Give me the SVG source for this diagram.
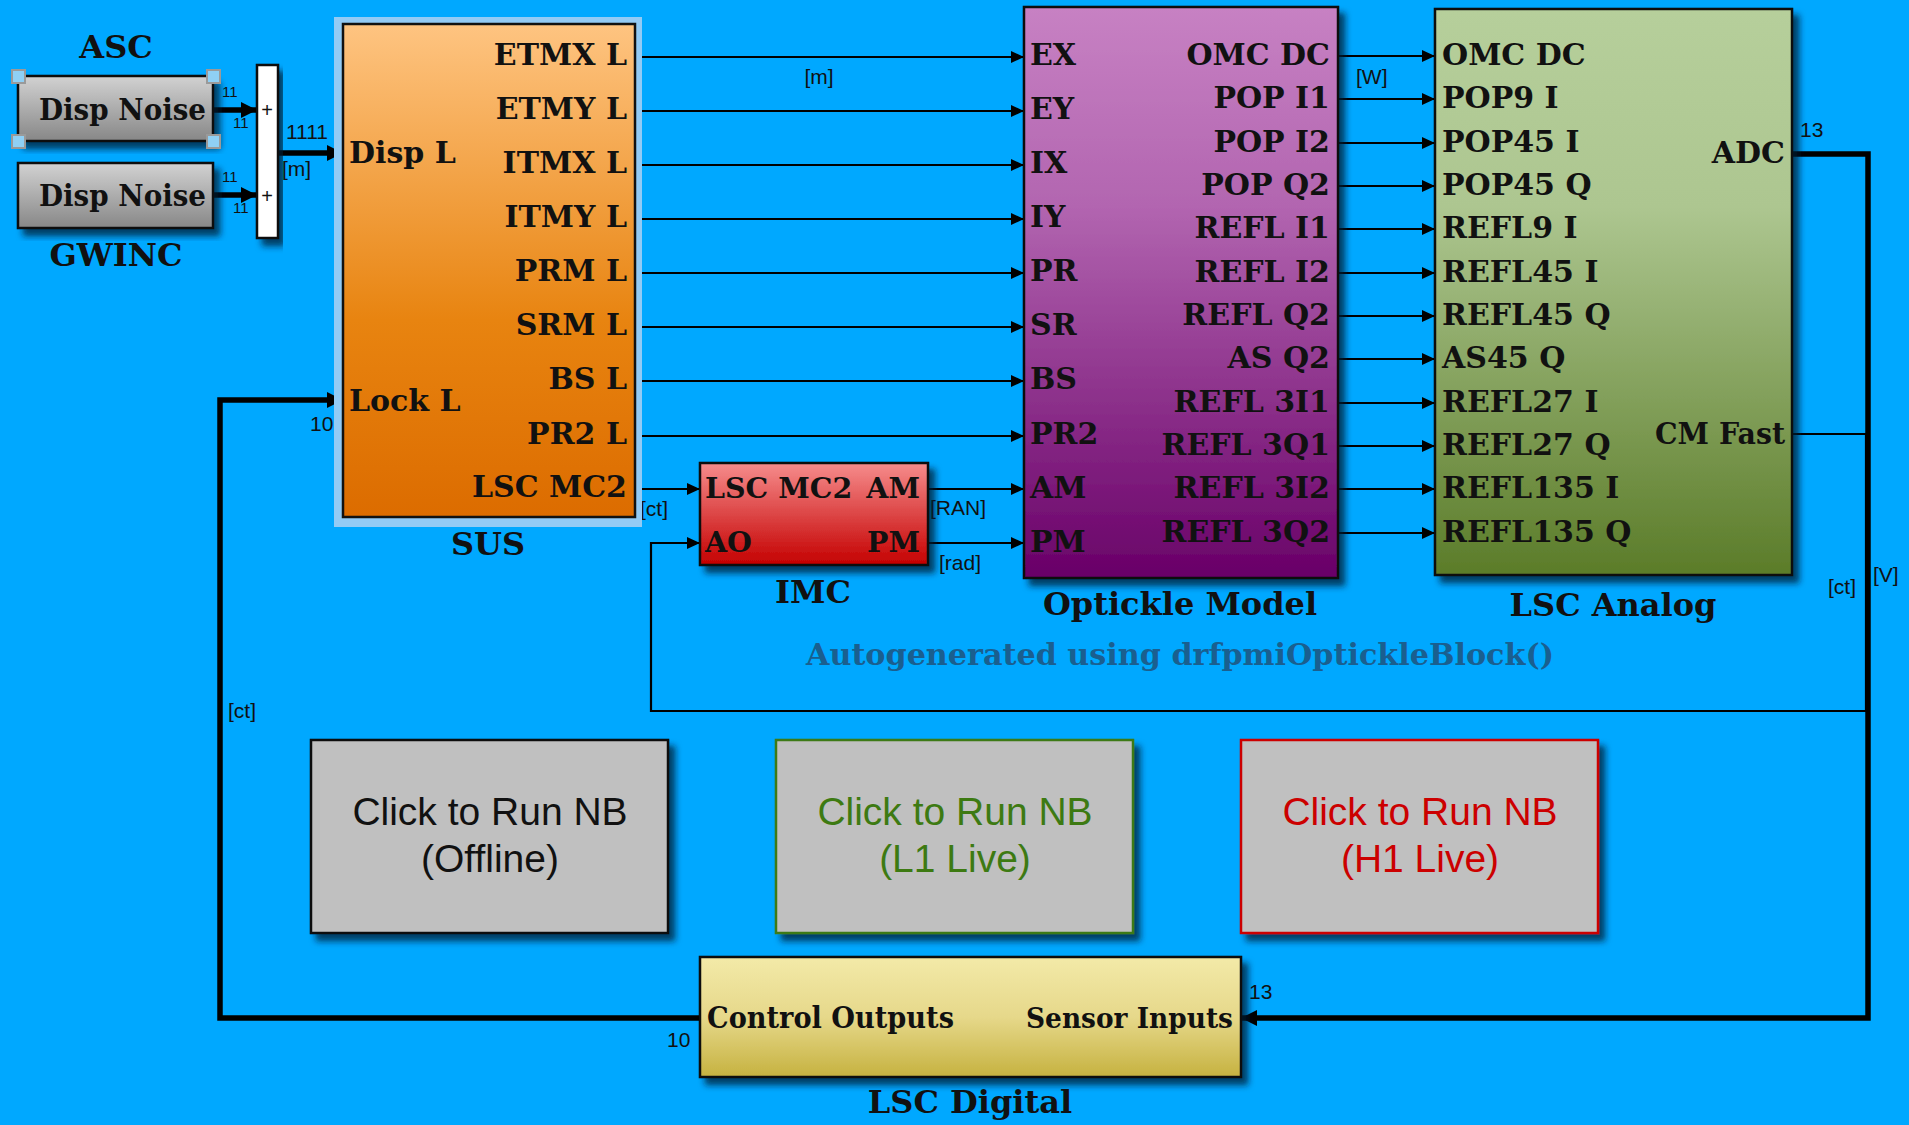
<svg xmlns="http://www.w3.org/2000/svg" width="1909" height="1125" viewBox="0 0 1909 1125">
<style>
.lbl{font-family:"DejaVu Serif","Liberation Serif",serif;font-weight:bold;font-size:30px;fill:#111}
.ttl{font-family:"DejaVu Serif","Liberation Serif",serif;font-weight:bold;font-size:32px;fill:#111}
.imc{font-size:28.5px}
.sm{font-family:"Liberation Sans",Arial,sans-serif;font-size:21px;fill:#111}
.xs{font-family:"Liberation Sans",Arial,sans-serif;font-size:15px;fill:#111}
.plus{font-family:"Liberation Sans",Arial,sans-serif;font-size:20px;fill:#111;text-anchor:middle}
.r{text-anchor:end}
.m{text-anchor:middle}
.blk{stroke:#111;stroke-width:2.5}
.thin{fill:none;stroke:#000;stroke-width:2.2}
.thick{fill:none;stroke:#000;stroke-width:5.5}
.btn{font-family:"Liberation Sans",Arial,sans-serif;font-size:39px;text-anchor:middle}
.hdl{fill:#8fd0f5;stroke:#9a9a9a;stroke-width:2}
</style>
<defs>
<filter id="sh" x="-10%" y="-10%" width="130%" height="130%"><feDropShadow dx="6" dy="7" stdDeviation="3" flood-color="#001a33" flood-opacity="0.75"/></filter>
<linearGradient id="gGray" x1="0" y1="0" x2="0" y2="1"><stop offset="0" stop-color="#d2d2d2"/><stop offset="1" stop-color="#878787"/></linearGradient>
<linearGradient id="gOrange" x1="0" y1="0" x2="0" y2="1"><stop offset="0" stop-color="#fec481"/><stop offset="0.6" stop-color="#e88410"/><stop offset="1" stop-color="#dc6c00"/></linearGradient>
<linearGradient id="gPurple" x1="0" y1="0" x2="0" y2="1"><stop offset="0" stop-color="#c781c3"/><stop offset="0.35" stop-color="#b265b0"/><stop offset="1" stop-color="#690068"/></linearGradient>
<linearGradient id="gRed" x1="0" y1="0" x2="0" y2="1"><stop offset="0" stop-color="#f68c8c"/><stop offset="1" stop-color="#c40000"/></linearGradient>
<linearGradient id="gGreen" x1="0" y1="0" x2="0" y2="1"><stop offset="0" stop-color="#b6cf9b"/><stop offset="0.35" stop-color="#adc690"/><stop offset="1" stop-color="#5b7c29"/></linearGradient>
<linearGradient id="gYellow" x1="0" y1="0" x2="0" y2="1"><stop offset="0" stop-color="#f3eaa8"/><stop offset="0.5" stop-color="#e6d88a"/><stop offset="1" stop-color="#c6b240"/></linearGradient>
<marker id="ah" markerUnits="userSpaceOnUse" markerWidth="13" markerHeight="12" refX="13" refY="6" orient="auto"><path d="M0,0 L13,6 L0,12 z" fill="#000"/></marker>
<marker id="ahT" markerUnits="userSpaceOnUse" markerWidth="16" markerHeight="16" refX="16" refY="8" orient="auto"><path d="M0,0 L16,8 L0,16 z" fill="#000"/></marker>
</defs>
<rect x="0" y="0" width="1909" height="1125" fill="#00a8ff"/>

<g id="connectors">
  <line class="thick" x1="213" y1="110" x2="257" y2="110" marker-end="url(#ahT)"/>
  <line class="thick" x1="213" y1="195" x2="257" y2="195" marker-end="url(#ahT)"/>
  <line class="thick" x1="277" y1="153" x2="343" y2="153" marker-end="url(#ahT)"/>
  <line class="thin" x1="635" y1="57" x2="1024" y2="57" marker-end="url(#ah)"/>
  <line class="thin" x1="635" y1="111" x2="1024" y2="111" marker-end="url(#ah)"/>
  <line class="thin" x1="635" y1="165" x2="1024" y2="165" marker-end="url(#ah)"/>
  <line class="thin" x1="635" y1="219" x2="1024" y2="219" marker-end="url(#ah)"/>
  <line class="thin" x1="635" y1="273" x2="1024" y2="273" marker-end="url(#ah)"/>
  <line class="thin" x1="635" y1="327" x2="1024" y2="327" marker-end="url(#ah)"/>
  <line class="thin" x1="635" y1="381" x2="1024" y2="381" marker-end="url(#ah)"/>
  <line class="thin" x1="635" y1="436" x2="1024" y2="436" marker-end="url(#ah)"/>
  <line class="thin" x1="635" y1="489" x2="700" y2="489" marker-end="url(#ah)"/>
  <line class="thin" x1="928" y1="489" x2="1024" y2="489" marker-end="url(#ah)"/>
  <line class="thin" x1="928" y1="543" x2="1024" y2="543" marker-end="url(#ah)"/>
  <line class="thin" x1="1338" y1="56" x2="1435" y2="56" marker-end="url(#ah)"/>
  <line class="thin" x1="1338" y1="99" x2="1435" y2="99" marker-end="url(#ah)"/>
  <line class="thin" x1="1338" y1="143" x2="1435" y2="143" marker-end="url(#ah)"/>
  <line class="thin" x1="1338" y1="186" x2="1435" y2="186" marker-end="url(#ah)"/>
  <line class="thin" x1="1338" y1="229" x2="1435" y2="229" marker-end="url(#ah)"/>
  <line class="thin" x1="1338" y1="273" x2="1435" y2="273" marker-end="url(#ah)"/>
  <line class="thin" x1="1338" y1="316" x2="1435" y2="316" marker-end="url(#ah)"/>
  <line class="thin" x1="1338" y1="359" x2="1435" y2="359" marker-end="url(#ah)"/>
  <line class="thin" x1="1338" y1="403" x2="1435" y2="403" marker-end="url(#ah)"/>
  <line class="thin" x1="1338" y1="446" x2="1435" y2="446" marker-end="url(#ah)"/>
  <line class="thin" x1="1338" y1="489" x2="1435" y2="489" marker-end="url(#ah)"/>
  <line class="thin" x1="1338" y1="533" x2="1435" y2="533" marker-end="url(#ah)"/>
  <polyline class="thin" points="1792,434 1866,434 1866,711 651,711 651,543 700,543" marker-end="url(#ah)"/>
  <polyline class="thick" points="1792,154 1868,154 1868,1018 1241,1018" marker-end="url(#ahT)"/>
  <polyline class="thick" points="700,1018 220,1018 220,400 343,400" marker-end="url(#ahT)"/>
  <text class="xs" x="222" y="97">11</text>
  <text class="xs" x="233" y="128">11</text>
  <text class="xs" x="222" y="182">11</text>
  <text class="xs" x="233" y="213">11</text>
  <text class="sm" x="286" y="139">1111</text>
  <text class="sm" x="282" y="176">[m]</text>
  <text class="sm m" x="819" y="84">[m]</text>
  <text class="sm" x="1356" y="84">[W]</text>
  <text class="sm" x="640" y="516">[ct]</text>
  <text class="sm" x="930" y="515">[RAN]</text>
  <text class="sm" x="939" y="570">[rad]</text>
  <text class="sm" x="310" y="431">10</text>
  <text class="sm" x="228" y="718">[ct]</text>
  <text class="sm" x="1800" y="137">13</text>
  <text class="sm" x="1828" y="594">[ct]</text>
  <text class="sm" x="1873" y="582">[V]</text>
  <text class="sm" x="1249" y="999">13</text>
  <text class="sm" x="667" y="1047">10</text>
</g>

<g id="asc">
  <rect class="blk" x="18" y="76" width="195" height="65" fill="url(#gGray)" filter="url(#sh)"/>
  <text class="ttl" x="39" y="120" style="font-size:29px" textLength="167" lengthAdjust="spacingAndGlyphs">Disp Noise</text>
  <text class="ttl m" x="116" y="58">ASC</text>
  <rect class="hdl" x="12" y="70" width="13" height="13"/>
  <rect class="hdl" x="207" y="70" width="13" height="13"/>
  <rect class="hdl" x="12" y="135" width="13" height="13"/>
  <rect class="hdl" x="207" y="135" width="13" height="13"/>
</g>

<g id="gwinc">
  <rect class="blk" x="18" y="163" width="195" height="65" fill="url(#gGray)" filter="url(#sh)"/>
  <text class="ttl" x="39" y="206" style="font-size:29px" textLength="167" lengthAdjust="spacingAndGlyphs">Disp Noise</text>
  <text class="ttl m" x="116" y="266">GWINC</text>
</g>

<g id="sum">
  <rect x="257" y="65" width="21" height="173" fill="#fff" stroke="#111" stroke-width="2.5" filter="url(#sh)"/>
  <text class="plus" x="267" y="117">+</text>
  <text class="plus" x="267" y="203">+</text>
</g>

<g id="sus">
  <rect x="334" y="17" width="308" height="510" fill="#93cbf5"/>
  <rect class="blk" x="343" y="24" width="292" height="493" fill="url(#gOrange)"/>
  <text class="lbl r" x="627" y="65">ETMX L</text>
  <text class="lbl r" x="627" y="119">ETMY L</text>
  <text class="lbl r" x="627" y="173">ITMX L</text>
  <text class="lbl r" x="627" y="227">ITMY L</text>
  <text class="lbl r" x="627" y="281">PRM L</text>
  <text class="lbl r" x="627" y="335">SRM L</text>
  <text class="lbl r" x="627" y="389">BS L</text>
  <text class="lbl r" x="627" y="444">PR2 L</text>
  <text class="lbl r" x="627" y="497">LSC MC2</text>
  <text class="lbl" x="349" y="163">Disp L</text>
  <text class="lbl" x="349" y="411">Lock L</text>
  <text class="ttl m" x="488" y="555">SUS</text>
</g>

<g id="imc">
  <rect class="blk" x="700" y="463" width="228" height="102" fill="url(#gRed)" filter="url(#sh)"/>
  <text class="lbl imc" x="705" y="498">LSC MC2</text>
  <text class="lbl imc r" x="920" y="498">AM</text>
  <text class="lbl imc" x="705" y="552">AO</text>
  <text class="lbl imc r" x="920" y="552">PM</text>
  <text class="ttl m" x="813" y="603">IMC</text>
</g>

<g id="optickle">
  <rect class="blk" x="1024" y="7" width="314" height="571" fill="url(#gPurple)" filter="url(#sh)"/>
  <text class="lbl" x="1030" y="65">EX</text>
  <text class="lbl" x="1030" y="119">EY</text>
  <text class="lbl" x="1030" y="173">IX</text>
  <text class="lbl" x="1030" y="227">IY</text>
  <text class="lbl" x="1030" y="281">PR</text>
  <text class="lbl" x="1030" y="335">SR</text>
  <text class="lbl" x="1030" y="389">BS</text>
  <text class="lbl" x="1030" y="444">PR2</text>
  <text class="lbl" x="1030" y="498">AM</text>
  <text class="lbl" x="1030" y="552">PM</text>
  <text class="lbl r" x="1330" y="65">OMC DC</text>
  <text class="lbl r" x="1330" y="108">POP I1</text>
  <text class="lbl r" x="1330" y="152">POP I2</text>
  <text class="lbl r" x="1330" y="195">POP Q2</text>
  <text class="lbl r" x="1330" y="238">REFL I1</text>
  <text class="lbl r" x="1330" y="282">REFL I2</text>
  <text class="lbl r" x="1330" y="325">REFL Q2</text>
  <text class="lbl r" x="1330" y="368">AS Q2</text>
  <text class="lbl r" x="1330" y="412">REFL 3I1</text>
  <text class="lbl r" x="1330" y="455">REFL 3Q1</text>
  <text class="lbl r" x="1330" y="498">REFL 3I2</text>
  <text class="lbl r" x="1330" y="542">REFL 3Q2</text>
  <text class="ttl m" x="1180" y="615">Optickle Model</text>
</g>

<g id="autogen-note">
  <text class="ttl" x="806" y="665" style="fill:#1a5f8f;font-size:29px" textLength="748" lengthAdjust="spacingAndGlyphs">Autogenerated using drfpmiOptickleBlock()</text>
</g>

<g id="lsc-analog">
  <rect class="blk" x="1435" y="9" width="357" height="566" fill="url(#gGreen)" filter="url(#sh)"/>
  <text class="lbl" x="1442" y="65">OMC DC</text>
  <text class="lbl" x="1442" y="108">POP9 I</text>
  <text class="lbl" x="1442" y="152">POP45 I</text>
  <text class="lbl" x="1442" y="195">POP45 Q</text>
  <text class="lbl" x="1442" y="238">REFL9 I</text>
  <text class="lbl" x="1442" y="282">REFL45 I</text>
  <text class="lbl" x="1442" y="325">REFL45 Q</text>
  <text class="lbl" x="1442" y="368">AS45 Q</text>
  <text class="lbl" x="1442" y="412">REFL27 I</text>
  <text class="lbl" x="1442" y="455">REFL27 Q</text>
  <text class="lbl" x="1442" y="498">REFL135 I</text>
  <text class="lbl" x="1442" y="542">REFL135 Q</text>
  <text class="lbl r" x="1785" y="163">ADC</text>
  <text class="lbl r" x="1785" y="444" textLength="130" lengthAdjust="spacingAndGlyphs">CM Fast</text>
  <text class="ttl m" x="1613" y="616">LSC Analog</text>
</g>

<g id="nb-offline">
  <rect x="311" y="740" width="357" height="193" fill="#c0c0c0" stroke="#111" stroke-width="2.5" filter="url(#sh)"/>
  <text class="btn" x="490" y="825" fill="#111">Click to Run NB</text>
  <text class="btn" x="490" y="872" fill="#111">(Offline)</text>
</g>

<g id="nb-l1">
  <rect x="776" y="740" width="357" height="193" fill="#c0c0c0" stroke="#3d7a12" stroke-width="2.5" filter="url(#sh)"/>
  <text class="btn" x="955" y="825" fill="#3d7a12">Click to Run NB</text>
  <text class="btn" x="955" y="872" fill="#3d7a12">(L1 Live)</text>
</g>

<g id="nb-h1">
  <rect x="1241" y="740" width="357" height="193" fill="#c0c0c0" stroke="#cc0000" stroke-width="2.5" filter="url(#sh)"/>
  <text class="btn" x="1420" y="825" fill="#cc0000">Click to Run NB</text>
  <text class="btn" x="1420" y="872" fill="#cc0000">(H1 Live)</text>
</g>

<g id="lsc-digital">
  <rect class="blk" x="700" y="957" width="541" height="120" fill="url(#gYellow)" filter="url(#sh)"/>
  <text class="lbl" x="707" y="1028" textLength="247" lengthAdjust="spacingAndGlyphs">Control Outputs</text>
  <text class="lbl r" x="1233" y="1028" style="font-size:27px" textLength="207" lengthAdjust="spacingAndGlyphs">Sensor Inputs</text>
  <text class="ttl m" x="970" y="1113">LSC Digital</text>
</g>
</svg>
